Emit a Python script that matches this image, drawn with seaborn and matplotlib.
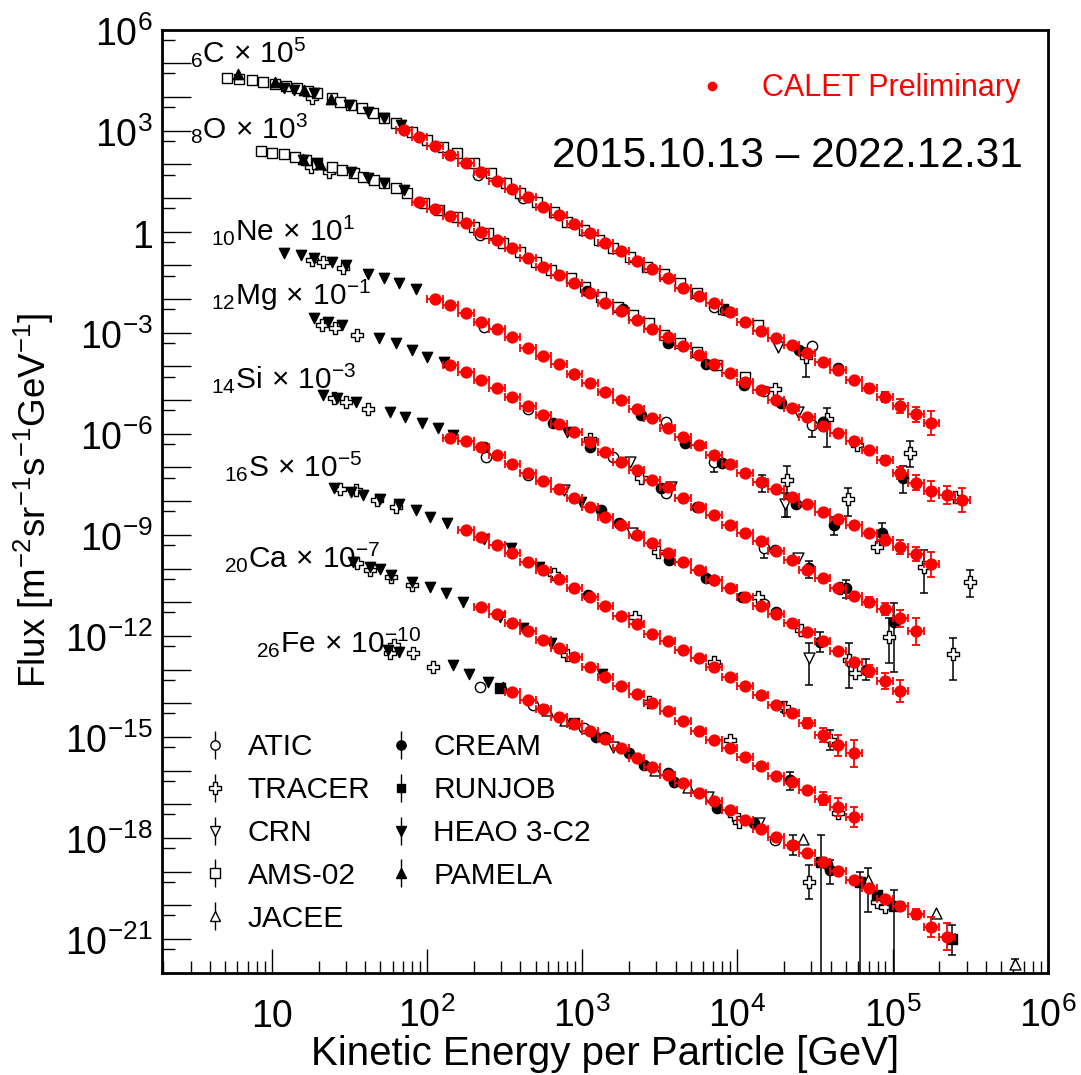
#!/usr/bin/env python3

import numpy as np
import pandas as pd
import matplotlib
matplotlib.use("Agg")
import matplotlib.pyplot as plt
import matplotlib.ticker as mticker
import matplotlib.transforms as mtransforms
from matplotlib.lines import Line2D
from matplotlib.legend_handler import HandlerTuple
import seaborn as sns

# CALET preliminary spectra: log10(E / GeV) and log10(flux x scale factor)
C_LOGE = [1.85, 1.95, 2.05, 2.15, 2.25, 2.35, 2.45, 2.55, 2.65, 2.75, 2.85, 2.95,
          3.05, 3.15, 3.25, 3.35, 3.45, 3.55, 3.65, 3.75, 3.85, 3.95, 4.05, 4.15,
          4.25, 4.35, 4.45, 4.55, 4.65, 4.75, 4.85, 4.95, 5.05, 5.15, 5.25]
C_LOGF = [3.02, 2.80, 2.55, 2.28, 2.03, 1.78, 1.52, 1.26, 1.02, 0.74, 0.50, 0.23,
          -0.05, -0.33, -0.57, -0.87, -1.12, -1.38, -1.66, -1.91, -2.13, -2.38,
          -2.67, -2.94, -3.15, -3.36, -3.61, -3.86, -4.11, -4.40, -4.65, -4.90,
          -5.18, -5.42, -5.67]
C_TAIL_ERR = [0.12, 0.15, 0.20, 0.22, 0.36]

O_LOGE = [1.95, 2.05, 2.15, 2.25, 2.35, 2.45, 2.55, 2.65, 2.75, 2.85, 2.95, 3.05,
          3.15, 3.25, 3.35, 3.45, 3.55, 3.65, 3.75, 3.85, 3.95, 4.05, 4.15, 4.25,
          4.35, 4.45, 4.55, 4.65, 4.75, 4.85, 4.95, 5.05, 5.15, 5.25, 5.35, 5.45]
O_LOGF = [0.89, 0.68, 0.46, 0.25, 0.00, -0.25, -0.49, -0.79, -1.04, -1.27, -1.51,
          -1.83, -2.11, -2.35, -2.62, -2.90, -3.14, -3.39, -3.66, -3.93, -4.19,
          -4.45, -4.70, -5.00, -5.22, -5.51, -5.77, -5.99, -6.21, -6.48, -6.78,
          -7.16, -7.45, -7.69, -7.82, -7.97]
O_TAIL_ERR = [0.12, 0.18, 0.22, 0.30, 0.27, 0.36]

NE_LOGE = [2.05, 2.15, 2.25, 2.35, 2.45, 2.55, 2.65, 2.75, 2.85, 2.95, 3.05, 3.15,
           3.25, 3.35, 3.45, 3.55, 3.65, 3.75, 3.85, 3.95, 4.05, 4.15, 4.25, 4.35,
           4.45, 4.55, 4.65, 4.75, 4.85, 4.95, 5.05, 5.15, 5.25]
NE_LOGF = [-2.01, -2.18, -2.42, -2.67, -2.90, -3.14, -3.46, -3.69, -3.93, -4.21,
           -4.48, -4.75, -5.00, -5.25, -5.54, -5.84, -6.09, -6.34, -6.63, -6.90,
           -7.16, -7.43, -7.65, -7.87, -8.09, -8.32, -8.54, -8.71, -8.94, -9.16,
           -9.36, -9.57, -9.87]
NE_TAIL_ERR = [0.15, 0.20, 0.22, 0.37]

MG_LOGE = [2.15, 2.25, 2.35, 2.45, 2.55, 2.65, 2.75, 2.85, 2.95, 3.05, 3.15, 3.25,
           3.35, 3.45, 3.55, 3.65, 3.75, 3.85, 3.95, 4.05, 4.15, 4.25, 4.35, 4.45,
           4.55, 4.65, 4.75, 4.85, 4.95, 5.05, 5.15]
MG_LOGF = [-3.96, -4.16, -4.40, -4.65, -4.92, -5.16, -5.44, -5.70, -5.96, -6.24,
           -6.53, -6.83, -7.08, -7.37, -7.59, -7.92, -8.16, -8.41, -8.70, -8.94,
           -9.17, -9.47, -9.75, -10.04, -10.29, -10.59, -10.82, -10.99, -11.19,
           -11.48, -11.86]
MG_TAIL_ERR = [0.15, 0.18, 0.25, 0.40]

SI_LOGE = [2.15, 2.25, 2.35, 2.45, 2.55, 2.65, 2.75, 2.85, 2.95, 3.05, 3.15, 3.25,
           3.35, 3.45, 3.55, 3.65, 3.75, 3.85, 3.95, 4.05, 4.15, 4.25, 4.35, 4.45,
           4.55, 4.65, 4.75, 4.85, 4.95, 5.05]
SI_LOGF = [-6.11, -6.22, -6.39, -6.63, -6.89, -7.15, -7.40, -7.65, -7.92, -8.18,
           -8.46, -8.71, -9.01, -9.25, -9.55, -9.80, -10.05, -10.34, -10.58, -10.84,
           -11.10, -11.35, -11.62, -11.89, -12.15, -12.44, -12.77, -13.05, -13.34,
           -13.63]
SI_TAIL_ERR = [0.18, 0.24, 0.33]

S_LOGE = [2.25, 2.35, 2.45, 2.55, 2.65, 2.75, 2.85, 2.95, 3.05, 3.15, 3.25, 3.35,
          3.45, 3.55, 3.65, 3.75, 3.85, 3.95, 4.05, 4.15, 4.25, 4.35, 4.45, 4.55,
          4.65, 4.75]
S_LOGF = [-8.86, -9.05, -9.30, -9.54, -9.80, -10.04, -10.32, -10.59, -10.85, -11.12,
          -11.41, -11.65, -11.93, -12.15, -12.42, -12.67, -12.92, -13.22, -13.49,
          -13.76, -14.04, -14.30, -14.60, -14.95, -15.25, -15.49]
S_TAIL_ERR = [0.15, 0.21, 0.32, 0.40]

CA_LOGE = [2.35, 2.45, 2.55, 2.65, 2.75, 2.85, 2.95, 3.05, 3.15, 3.25, 3.35, 3.45,
           3.55, 3.65, 3.75, 3.85, 3.95, 4.05, 4.15, 4.25, 4.35, 4.45, 4.55, 4.65,
           4.75]
CA_LOGF = [-11.14, -11.35, -11.61, -11.85, -12.12, -12.37, -12.63, -12.92, -13.22,
           -13.48, -13.73, -14.00, -14.23, -14.54, -14.81, -15.10, -15.33, -15.59,
           -15.87, -16.15, -16.34, -16.57, -16.83, -17.08, -17.37]
CA_TAIL_ERR = [0.18, 0.27, 0.30]

FE_LOGE = [2.55, 2.65, 2.75, 2.85, 2.95, 3.05, 3.15, 3.25, 3.35, 3.45, 3.55, 3.65,
           3.75, 3.85, 3.95, 4.05, 4.15, 4.25, 4.35, 4.45, 4.55, 4.65, 4.75, 4.85,
           4.95, 5.05, 5.15, 5.25, 5.35]
FE_LOGF = [-13.66, -13.89, -14.16, -14.41, -14.61, -14.83, -15.05, -15.32, -15.64,
           -15.89, -16.14, -16.38, -16.66, -16.91, -17.18, -17.47, -17.72, -17.97,
           -18.22, -18.46, -18.71, -18.99, -19.25, -19.50, -19.80, -20.03, -20.27,
           -20.64, -20.94]
FE_TAIL_ERR = [0.12, 0.15, 0.30, 0.40]

ELEMENTS = ["C", "O", "Ne", "Mg", "Si", "S", "Ca", "Fe"]
ATOMIC_Z = [6, 8, 10, 12, 14, 16, 20, 26]
SCALE_EXP = [5, 3, 1, -1, -3, -5, -7, -10]

# Other experiments (black), same units; *_BAR_* points carry visible error bars (dex)
ATIC_LOGE = [2.33, 2.62, 3.85, 4.48, 2.34, 3.85, 4.17, 2.37, 2.95, 3.54, 2.65, 3.20,
             3.54, 2.38, 2.65, 3.85, 4.17, 2.34, 2.68, 3.01, 4.24]
ATIC_LOGF = [1.68, 0.99, -2.23, -3.39, -0.10, -3.96, -4.72, -2.82, -4.21, -5.64,
             -5.25, -6.68, -7.77, -6.68, -7.23, -10.34, -11.04, -13.51, -14.06,
             -14.75, -18.07]
ATIC_BAR_LOGE = [4.48, 3.85, 4.16, 4.17]
ATIC_BAR_LOGF = [-5.75, -6.83, -7.42, -9.40]
ATIC_BAR_UP = [0.25, 0.20, 0.20, 0.20]
ATIC_BAR_DN = [0.35, 0.30, 0.30, 0.30]

TRACER_LOGE = [1.26, 1.25, 1.37, 4.24, 4.77, 5.40, 1.26, 1.33, 1.46, 4.90, 1.32, 1.41,
               1.55, 3.05, 3.38, 4.66, 1.40, 1.48, 1.62, 3.49, 4.13, 4.41, 4.76, 1.44,
               1.54, 1.68, 1.80, 2.82, 3.34, 3.85, 1.55, 1.63, 1.77, 1.90, 2.90, 3.43,
               3.95, 4.65, 1.76, 1.79, 1.91, 2.04, 3.98, 4.01, 4.90, 4.95]
TRACER_LOGF = [3.96, 1.93, 1.78, -4.68, -6.34, -7.87, -0.84, -0.90, -1.08, -9.36,
               -2.77, -2.87, -3.07, -6.14, -7.32, -10.59, -4.95, -5.05, -5.27, -9.50,
               -10.84, -11.83, -13.10, -7.65, -7.67, -7.97, -8.17, -10.15, -11.43,
               -12.77, -9.85, -10.03, -10.25, -10.49, -12.57, -13.96, -15.10, -17.27,
               -12.52, -12.28, -12.52, -12.92, -17.32, -17.52, -19.90, -20.05]
TRACER_BAR_LOGE = [4.44, 4.58, 5.11, 4.32, 4.71, 5.20, 5.50, 4.98, 5.39, 4.72, 4.30,
                   4.60, 4.46]
TRACER_BAR_LOGF = [-3.71, -5.57, -6.56, -7.37, -7.95, -9.95, -10.39, -12.03, -12.54,
                   -12.72, -14.12, -15.10, -19.30]
TRACER_BAR_UP = [0.25, 0.33, 0.35, 0.42, 0.34, 0.50, 0.35, 0.55, 0.48, 0.50, 0.15,
                 0.30, 0.50]
TRACER_BAR_DN = [0.59, 0.81, 0.42, 1.09, 0.50, 0.77, 0.46, 0.78, 0.77, 0.84, 0.15,
                 0.30, 0.50]

CRN_LOGE = [4.26, 4.39, 3.31, 3.57, 4.39, 2.88, 3.32, 3.20, 3.81, 4.14]
CRN_LOGF = [-3.42, -5.35, -6.83, -7.59, -9.70, -7.67, -8.96, -15.30, -16.78, -17.57]
CRN_BAR_LOGE = [4.31, 4.46]
CRN_BAR_LOGF = [-8.07, -12.67]
CRN_BAR_UP = [0.30, 0.45]
CRN_BAR_DN = [0.40, 0.80]

AMS02_LOGE = [0.71, 0.79, 0.87, 0.94, 1.02, 1.09, 1.16, 1.23, 1.29, 1.39, 1.44, 1.51,
              1.58, 1.65, 1.72, 1.80, 1.90, 2.00, 2.10, 2.19, 2.30, 2.41, 2.51, 2.60,
              2.71, 2.82, 2.90, 3.01, 3.11, 3.20, 3.31, 3.42, 3.53, 3.63, 3.74, 3.91,
              4.13,
              0.93, 1.00, 1.08, 1.15, 1.22, 1.29, 1.39, 1.45, 1.53, 1.59, 1.66, 1.72,
              1.80, 1.87, 1.98, 2.08, 2.19, 2.30, 2.39, 2.49, 2.60, 2.70, 2.80, 2.93,
              3.02, 3.12, 3.23, 3.33, 3.43, 3.53, 3.63, 3.74, 3.87, 4.05]
AMS02_LOGF = [4.56, 4.53, 4.51, 4.44, 4.39, 4.33, 4.26, 4.19, 4.11, 3.96, 3.86, 3.76,
              3.67, 3.52, 3.37, 3.22, 2.97, 2.72, 2.53, 2.33, 2.03, 1.74, 1.44, 1.14,
              0.89, 0.60, 0.30, 0.05, -0.25, -0.49, -0.74, -1.04, -1.24, -1.53, -1.83,
              -2.28, -2.77,
              2.41, 2.33, 2.31, 2.23, 2.13, 2.01, 1.93, 1.83, 1.74, 1.63, 1.54, 1.44,
              1.29, 1.14, 0.84, 0.65, 0.45, 0.15, -0.05, -0.34, -0.60, -0.89, -1.14,
              -1.38, -1.63, -1.93, -2.23, -2.47, -2.72, -3.08, -3.31, -3.56, -3.96,
              -4.31]

JACEE_LOGE = [2.77, 2.89, 3.47, 3.68, 4.42, 5.28]
JACEE_LOGF = [-14.21, -14.50, -15.99, -16.48, -18.02, -20.24]
JACEE_BAR_LOGE = [4.84, 5.79]
JACEE_BAR_LOGF = [-19.25, -21.73]
JACEE_BAR_UP = [0.35, 0.15]
JACEE_BAR_DN = [0.95, 0.10]

CREAM_LOGE = [3.92, 4.40, 4.65, 3.03, 3.26, 3.55, 3.80, 4.04, 4.28, 4.55, 3.38, 3.66,
              3.90, 4.38, 2.81, 3.05, 3.51, 3.74, 4.24, 2.37, 3.12, 3.24, 3.56, 3.80,
              4.03, 4.25, 3.04, 3.09, 3.15, 3.30, 3.40, 3.55, 3.59, 3.87, 4.11, 4.58]
CREAM_LOGF = [-2.33, -3.51, -4.06, -1.75, -2.28, -3.31, -3.93, -4.55, -5.10, -5.64,
              -5.44, -6.28, -6.88, -8.07, -5.69, -6.39, -7.62, -8.17, -9.45, -6.39,
              -8.27, -8.66, -9.75, -10.29, -10.84, -11.29, -10.79, -15.00, -15.00,
              -15.49, -15.84, -16.08, -16.33, -17.12, -17.55, -18.76]
CREAM_BAR_LOGE = [4.95, 5.07, 4.62, 4.93, 4.46, 4.70, 5.01, 4.53, 4.83, 4.34, 4.36, 4.60]
CREAM_BAR_LOGF = [-4.90, -7.32, -8.71, -8.96, -9.97, -10.59, -11.58, -12.18, -13.00,
                  -16.28, -18.21, -18.96]
CREAM_BAR_UP = [0.15, 0.35, 0.25, 0.30, 0.20, 0.25, 0.55, 0.30, 0.30, 0.25, 0.30, 0.30]
CREAM_BAR_DN = [0.15, 0.45, 0.30, 0.35, 0.30, 0.30, 1.50, 0.30, 0.30, 0.30, 0.30, 0.40]

RUNJOB_LOGE = [2.47, 2.95, 4.90]
RUNJOB_LOGF = [-13.56, -14.60, -19.70]
RUNJOB_BAR_LOGE = [5.38, 4.54, 4.79, 5.01]
RUNJOB_BAR_LOGF = [-20.99, -18.72, -19.30, -20.03]
RUNJOB_BAR_UP = [0.40, 0.80, 0.30, 0.47]
RUNJOB_BAR_DN = [0.50, 6.00, 6.00, 6.00]

HEAO_LOGE = [1.08, 1.14, 1.27, 1.50, 1.62, 1.72, 1.83, 1.20, 1.29, 1.51, 1.62, 1.72,
             1.85, 1.08, 1.19, 1.27, 1.39, 1.48, 1.62, 1.72, 1.82, 1.93, 1.27, 1.36,
             1.45, 1.69, 1.80, 1.90, 2.00, 2.11, 2.90, 1.33, 1.42, 1.54, 1.76, 1.86,
             1.97, 2.07, 2.17, 2.99, 1.40, 1.51, 1.59, 1.70, 1.82, 1.93, 2.02, 2.13,
             2.37, 2.54, 2.72, 1.52, 1.63, 1.70, 1.77, 1.90, 2.02, 2.12, 2.23, 2.47,
             2.62, 2.80, 3.13, 1.75, 1.82, 2.17, 2.27, 2.39]
HEAO_LOGF = [4.27, 4.22, 4.11, 3.76, 3.57, 3.37, 3.17, 2.13, 2.03, 1.78, 1.59, 1.44,
             1.24, -0.64, -0.69, -0.79, -0.89, -0.99, -1.24, -1.38, -1.53, -1.71,
             -2.57, -2.67, -2.77, -3.17, -3.30, -3.51, -3.71, -3.86, -5.94, -4.85,
             -4.95, -5.05, -5.35, -5.49, -5.69, -5.84, -6.04, -8.02, -7.62, -7.72,
             -7.82, -7.95, -8.07, -8.27, -8.46, -8.66, -9.11, -9.40, -9.95, -9.80,
             -9.95, -10.00, -10.20, -10.39, -10.54, -10.74, -10.99, -11.43, -11.78,
             -12.22, -13.12, -12.42, -12.47, -12.87, -13.12, -13.37]

PAMELA_LOGE = [0.78, 1.02, 1.21, 1.38, 1.20, 1.31, 2.49]
PAMELA_LOGF = [4.68, 4.44, 4.21, 3.93, 2.15, 2.02, -13.51]

XTICK_EXP = [1, 2, 3, 4, 5, 6]
YTICK_EXP = [6, 3, 0, -3, -6, -9, -12, -15, -18, -21]

HALF_BIN = 0.05  # CALET bins are 0.1 decade wide

FONT = ["Liberation Sans", "DejaVu Sans"]


def power_label(n):
    if n == 0:
        return "1"
    if n == 1:
        return "10"
    return rf"$10^{{{n}}}$"


def scatter(ax, loge, logf, marker, face, edge, size, lw, z):
    df = pd.DataFrame({"E": np.power(10.0, loge), "F": np.power(10.0, logf)})
    sns.scatterplot(data=df, x="E", y="F", marker=marker, s=size, facecolor=face,
                    edgecolor=edge, linewidth=lw, legend=False, zorder=z, ax=ax)


def yerr_bars(ax, loge, logf, up, dn, color, lw, z):
    e = np.power(10.0, np.asarray(loge))
    f = np.power(10.0, np.asarray(logf))
    up = np.asarray(up)
    dn = np.asarray(dn)
    ax.errorbar(e, f, yerr=[f - f * 10.0 ** (-dn), f * 10.0 ** up - f], fmt="none",
                ecolor=color, elinewidth=lw, capsize=3, capthick=lw, zorder=z)


def main():
    sns.set_theme(style="ticks")
    plt.rcParams["font.family"] = FONT
    plt.rcParams["mathtext.fontset"] = "custom"
    plt.rcParams["mathtext.rm"] = "Liberation Sans"
    plt.rcParams["mathtext.it"] = "Liberation Sans:italic"
    plt.rcParams["mathtext.bf"] = "Liberation Sans:bold"
    plt.rcParams["mathtext.sf"] = "Liberation Sans"
    plt.rcParams["mathtext.default"] = "regular"
    plt.rcParams["axes.linewidth"] = 2.0
    plt.rcParams["text.color"] = "black"
    plt.rcParams["axes.labelcolor"] = "black"

    fig = plt.figure(figsize=(10.81, 10.75), dpi=100)
    ax = fig.add_axes([0.1496, 0.0952, 0.8196, 0.8772])
    ax.set_xscale("log")
    ax.set_yscale("log")

    experiments = [
        # label, marker, filled, area, points, bar points
        ("ATIC", "o", False, 55, ATIC_LOGE, ATIC_LOGF,
         (ATIC_BAR_LOGE, ATIC_BAR_LOGF, ATIC_BAR_UP, ATIC_BAR_DN)),
        ("TRACER", "P", False, 80, TRACER_LOGE, TRACER_LOGF,
         (TRACER_BAR_LOGE, TRACER_BAR_LOGF, TRACER_BAR_UP, TRACER_BAR_DN)),
        ("CRN", "v", False, 62, CRN_LOGE, CRN_LOGF,
         (CRN_BAR_LOGE, CRN_BAR_LOGF, CRN_BAR_UP, CRN_BAR_DN)),
        ("AMS-02", "s", False, 55, AMS02_LOGE, AMS02_LOGF, None),
        ("JACEE", "^", False, 62, JACEE_LOGE, JACEE_LOGF,
         (JACEE_BAR_LOGE, JACEE_BAR_LOGF, JACEE_BAR_UP, JACEE_BAR_DN)),
        ("CREAM", "o", True, 55, CREAM_LOGE, CREAM_LOGF,
         (CREAM_BAR_LOGE, CREAM_BAR_LOGF, CREAM_BAR_UP, CREAM_BAR_DN)),
        ("RUNJOB", "s", True, 48, RUNJOB_LOGE, RUNJOB_LOGF,
         (RUNJOB_BAR_LOGE, RUNJOB_BAR_LOGF, RUNJOB_BAR_UP, RUNJOB_BAR_DN)),
        ("HEAO 3-C2", "v", True, 55, HEAO_LOGE, HEAO_LOGF, None),
        ("PAMELA", "^", True, 55, PAMELA_LOGE, PAMELA_LOGF, None),
    ]

    handles = []
    labels = []
    for label, marker, filled, area, loge, logf, bars in experiments:
        face = "black" if filled else "white"
        scatter(ax, loge, logf, marker, face, "black", area, 1.0, 3)
        if bars is not None:
            bl, bf, up, dn = bars
            yerr_bars(ax, bl, bf, up, dn, "black", 1.1, 2)
            scatter(ax, bl, bf, marker, face, "black", area, 1.0, 3)
        bar = Line2D([], [], ls="none", marker="|", ms=20, mew=1.0, color="black")
        mk = Line2D([], [], ls="none", marker=marker, ms=np.sqrt(area) * 0.9,
                    mfc=face, mec="black", mew=1.0)
        handles.append((bar, mk))
        labels.append(label)

    calet = [
        (C_LOGE, C_LOGF, C_TAIL_ERR), (O_LOGE, O_LOGF, O_TAIL_ERR),
        (NE_LOGE, NE_LOGF, NE_TAIL_ERR), (MG_LOGE, MG_LOGF, MG_TAIL_ERR),
        (SI_LOGE, SI_LOGF, SI_TAIL_ERR), (S_LOGE, S_LOGF, S_TAIL_ERR),
        (CA_LOGE, CA_LOGF, CA_TAIL_ERR), (FE_LOGE, FE_LOGF, FE_TAIL_ERR),
    ]
    for loge, logf, tail in calet:
        e = np.power(10.0, np.asarray(loge))
        f = np.power(10.0, np.asarray(logf))
        ax.errorbar(e, f, xerr=[e - e * 10.0 ** -HALF_BIN, e * 10.0 ** HALF_BIN - e],
                    fmt="none", ecolor="red", elinewidth=1.3, capsize=3,
                    capthick=1.3, zorder=4)
        n = len(tail)
        yerr_bars(ax, loge[-n:], logf[-n:], tail, tail, "red", 1.3, 4)
        scatter(ax, loge, logf, "o", "red", "red", 78, 0.0, 5)

    ax.set_xlim(1.95, 1e6)
    ax.set_ylim(1e-22, 1e6)
    ax.set_xlabel("")
    ax.set_ylabel("")

    ax.xaxis.set_major_locator(mticker.FixedLocator([10.0 ** k for k in range(0, 7)]))
    ax.xaxis.set_minor_locator(mticker.FixedLocator(
        [m * 10.0 ** k for k in range(0, 6) for m in range(2, 10)]))
    ax.yaxis.set_major_locator(mticker.FixedLocator([10.0 ** k for k in range(-22, 7)]))
    ax.yaxis.set_minor_locator(mticker.FixedLocator([5 * 10.0 ** k for k in range(-23, 6)]))
    ax.xaxis.set_major_formatter(mticker.NullFormatter())
    ax.xaxis.set_minor_formatter(mticker.NullFormatter())
    ax.yaxis.set_major_formatter(mticker.NullFormatter())
    ax.yaxis.set_minor_formatter(mticker.NullFormatter())
    ax.tick_params(axis="both", which="both", direction="in", top=False, right=False,
                   color="black", width=1.0)
    ax.tick_params(axis="x", which="major", length=17)
    ax.tick_params(axis="x", which="minor", length=8.6)
    ax.tick_params(axis="y", which="major", length=20.7)
    ax.tick_params(axis="y", which="minor", length=9.1)
    for sp in ax.spines.values():
        sp.set_color("black")
        sp.set_linewidth(2.0)

    # tick labels, ROOT style
    xtrans = mtransforms.offset_copy(
        mtransforms.blended_transform_factory(ax.transData, ax.transAxes),
        fig=fig, y=-54, units="dots")
    for n in XTICK_EXP:
        ax.text(10.0 ** n, 0, power_label(n), transform=xtrans, ha="center",
                va="baseline", fontsize=27, color="black")
    ytrans = mtransforms.offset_copy(
        mtransforms.blended_transform_factory(ax.transAxes, ax.transData),
        fig=fig, x=-9, y=-16, units="dots")
    for n in YTICK_EXP:
        ax.text(0, 10.0 ** n, power_label(n), transform=ytrans, ha="right",
                va="baseline", fontsize=27, color="black")

    fig.text(605 / 1081, 1 - 1065 / 1075, "Kinetic Energy per Particle [GeV]",
             ha="center", va="baseline", fontsize=29, color="black")
    fig.text(34 / 1081, 1 - 500 / 1075,
             r"Flux [m$^{-2}$sr$^{-1}$s$^{-1}$GeV$^{-1}$]",
             ha="center", va="center", rotation=90, fontsize=26.5, color="black")

    # element labels
    label_pos = [(0.0319, 0.966), (0.0319, 0.8849), (0.0556, 0.7770), (0.0556, 0.7081),
                 (0.0556, 0.6197), (0.0703, 0.5270), (0.0703, 0.4305), (0.1064, 0.3398)]
    for sym, z, p, (lx, ly) in zip(ELEMENTS, ATOMIC_Z, SCALE_EXP, label_pos):
        ax.text(lx, ly, rf"$_{{{z}}}\mathrm{{{sym}}}\,\times\,10^{{{p}}}$",
                transform=ax.transAxes, ha="left", va="baseline", fontsize=21.5,
                color="black")

    ax.text(0.9725, 0.8547, "2015.10.13 \u2013 2022.12.31", transform=ax.transAxes,
            ha="right", va="baseline", fontsize=30.5, color="black")

    leg = ax.legend(handles, labels, ncol=2, loc="upper left",
                    bbox_to_anchor=(0.047, 0.254), frameon=False, fontsize=21.5,
                    handlelength=0.8, handletextpad=0.68, labelspacing=0.5,
                    columnspacing=0.62, borderpad=0, borderaxespad=0,
                    labelcolor="black",
                    handler_map={tuple: HandlerTuple(ndivide=1)})
    ax.add_artist(leg)

    calet_handle = Line2D([], [], ls="none", marker="o", ms=6, color="red")
    ax.legend([calet_handle], ["CALET Preliminary"], loc="center left",
              bbox_to_anchor=(0.6035, 0.9379), frameon=False, fontsize=22,
              handlelength=1.0, handletextpad=1.15, borderpad=0, borderaxespad=0,
              labelcolor="red")

    fig.savefig("out.png", dpi=100)
    plt.close(fig)


if __name__ == "__main__":
    main()
